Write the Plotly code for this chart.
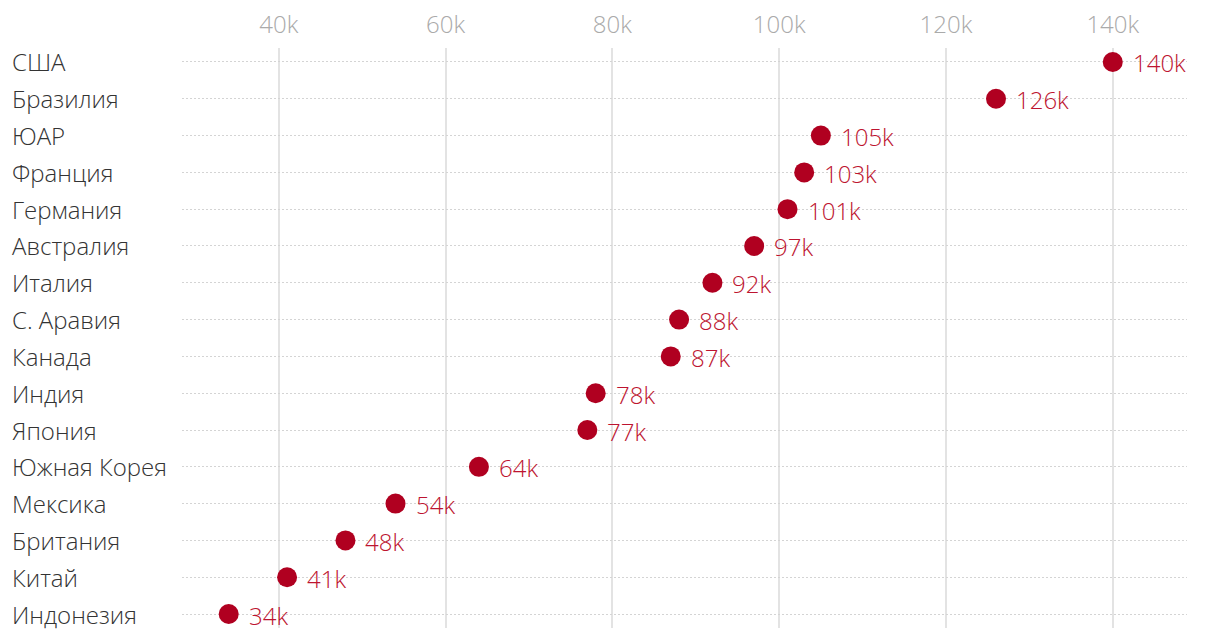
import plotly.graph_objects as go

countries = ["США", "Бразилия", "ЮАР", "Франция", "Германия", "Австралия", "Италия",
             "С. Аравия", "Канада", "Индия", "Япония", "Южная Корея", "Мексика",
             "Британия", "Китай", "Индонезия"]
values_k = [140, 126, 105, 103, 101, 97, 92, 88, 87, 78, 77, 64, 54, 48, 41, 34]
tick_vals = [40, 60, 80, 100, 120, 140]
tick_text = ["40k", "60k", "80k", "100k", "120k", "140k"]
value_labels = [f"{v}k" for v in values_k]

FONT = "Open Sans"
RED = "#b00020"
SIZE = 24

fig = go.Figure()
fig.add_trace(go.Scatter(
    x=values_k, y=countries, mode="markers",
    marker=dict(size=20, color=RED),
    cliponaxis=False, hoverinfo="skip",
))

for v, c, lab in zip(values_k, countries, value_labels):
    fig.add_annotation(x=v, xref="x", y=c, yref="y", xshift=18, yshift=-1,
                       text=lab, showarrow=False, xanchor="left", yanchor="middle",
                       font=dict(family=FONT, size=SIZE, color="#bd1430", weight=300))

for c in countries:
    fig.add_annotation(x=0, xref="paper", y=c, yref="y", xshift=-172,
                       text=c, showarrow=False, xanchor="left", yanchor="middle",
                       font=dict(family=FONT, size=SIZE, color="#333333", weight=300))

fig.update_layout(
    width=1220, height=640,
    margin=dict(l=174, r=41, t=40, b=20),
    plot_bgcolor="white", paper_bgcolor="white",
    showlegend=False,
    font=dict(family=FONT),
    xaxis=dict(side="top", range=[28.4, 148.9], tickvals=tick_vals, ticktext=tick_text,
               showgrid=True, gridcolor="#e3e3e3", gridwidth=2, zeroline=False,
               showline=False, ticks="", ticklabelstandoff=9, automargin=False,
               tickfont=dict(family=FONT, size=SIZE, color="#aaaaaa", weight=300)),
    yaxis=dict(categoryorder="array", categoryarray=countries, autorange=False,
               range=[15.38, -0.38], showticklabels=False, showgrid=True,
               gridcolor="#d4d4d4", gridwidth=1, griddash="2px,2px", zeroline=False,
               showline=False, ticks="", automargin=False),
)

fig.write_html("out.html")
